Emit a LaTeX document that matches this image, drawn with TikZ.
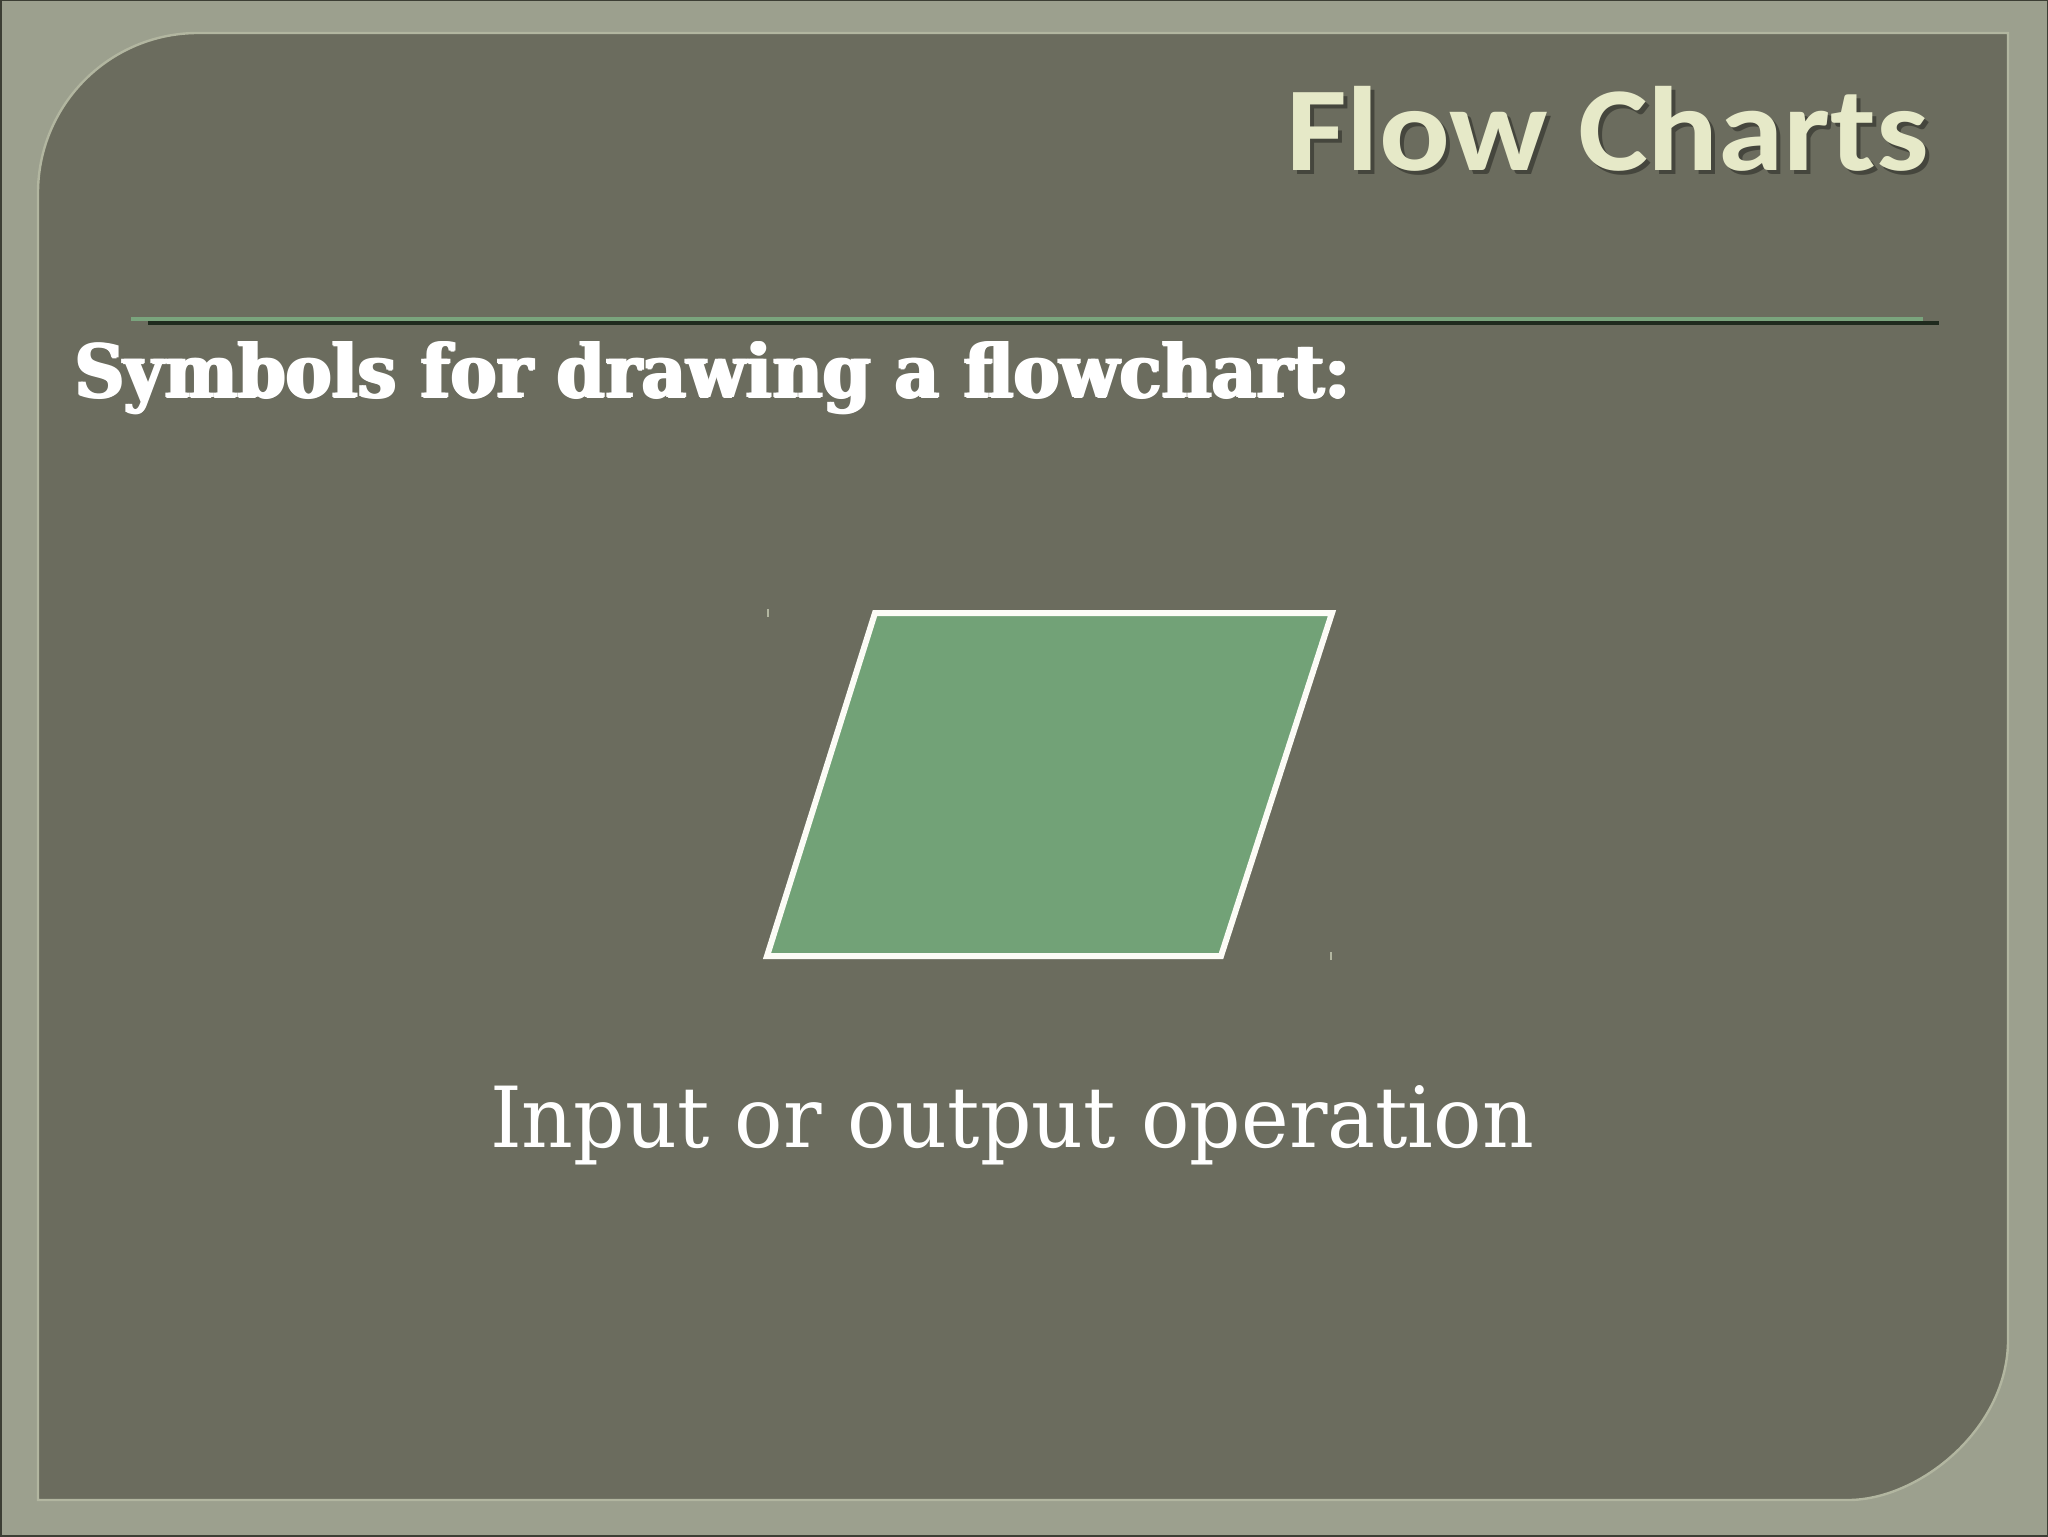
\documentclass[tikz,border=0pt]{standalone}
\usepackage{fontspec}
\newfontfamily\titlefont{Carlito}
\newfontfamily\slabfont{DejaVu Serif}
\definecolor{framecol}{HTML}{9CA08E}
\definecolor{framedark}{HTML}{3C3E34}
\definecolor{panelcol}{HTML}{6B6C5E}
\definecolor{panelhi}{HTML}{B2B6A0}
\definecolor{rulegreen}{HTML}{7AA47D}
\definecolor{ruledark}{HTML}{1F2A1E}
\definecolor{titlecol}{HTML}{E6E9C8}
\definecolor{shapefill}{HTML}{72A277}
\definecolor{shapeline}{HTML}{FCFCF6}
\tikzset{
  txt/.style={inner sep=0pt, outer sep=0pt},
  iosym/.style={draw=shapeline, line width=3pt, fill=shapefill, line join=miter},
}
\newcommand{\titletext}{\scalebox{1.1}[1]{\titlefont\bfseries\fontsize{60pt}{64pt}\selectfont Flow Charts}}
\newcommand{\subtext}{\resizebox{638pt}{28pt}{\slabfont\bfseries Symbols for drawing a flowchart:}}
\begin{document}
\begin{tikzpicture}[x=0.5pt,y=-0.5pt]
\useasboundingbox (0,0) rectangle (2048,1536);
% outer frame
\fill[framecol] (0,0) rectangle (2048,1536);
\draw[framedark, line width=1.5pt] (0,0) rectangle (2048,1536);
% inner panel
\path[fill=panelcol, draw=panelhi, line width=1.2pt]
  (38,193) .. controls (38,104.6) and (109.6,33) .. (198,33)
  -- (2008,33) -- (2008,1340)
  .. controls (2008,1428.4) and (1919.6,1500) .. (1848,1500)
  -- (38,1500) -- cycle;
% title
\node[txt, anchor=base west, text=black, opacity=0.35] (titleshadow) at (1290,174) {\titletext};
\node[txt, anchor=base west, text=titlecol] (title) at (1286,170) {\titletext};
% rule
\coordinate (ga) at (131,319);
\coordinate (gb) at (1923,319);
\coordinate (da) at (148,323);
\coordinate (db) at (1939,323);
\draw[ruledark, line width=2pt] (da) -- (db);
\draw[rulegreen, line width=2pt] (ga) -- (gb);
% subtitle (drawn thrice, slightly offset, to make it heavier)
\node[txt, anchor=base west, text=white] (subtitleA) at (73,397) {\subtext};
\node[txt, anchor=base west, text=white] (subtitleB) at (76,397) {\subtext};
\node[txt, anchor=base west, text=white] (subtitle) at (74.5,398) {\subtext};
% parallelogram
\coordinate (p1) at (875,613);
\coordinate (p2) at (1332,613);
\coordinate (p3) at (1221,956);
\coordinate (p4) at (767,956);
\draw[iosym] (p1) -- (p2) -- (p3) -- (p4) -- cycle;
% small ticks
\draw[panelhi, line width=0.6pt] (768,609) -- (768,617);
\draw[panelhi, line width=0.6pt] (1331,952) -- (1331,960);
% caption
\node[txt, anchor=base west, text=white] (caption) at (490,1147)
  {\resizebox{522pt}{31pt}{\slabfont Input or output operation}};
\end{tikzpicture}
\end{document}
